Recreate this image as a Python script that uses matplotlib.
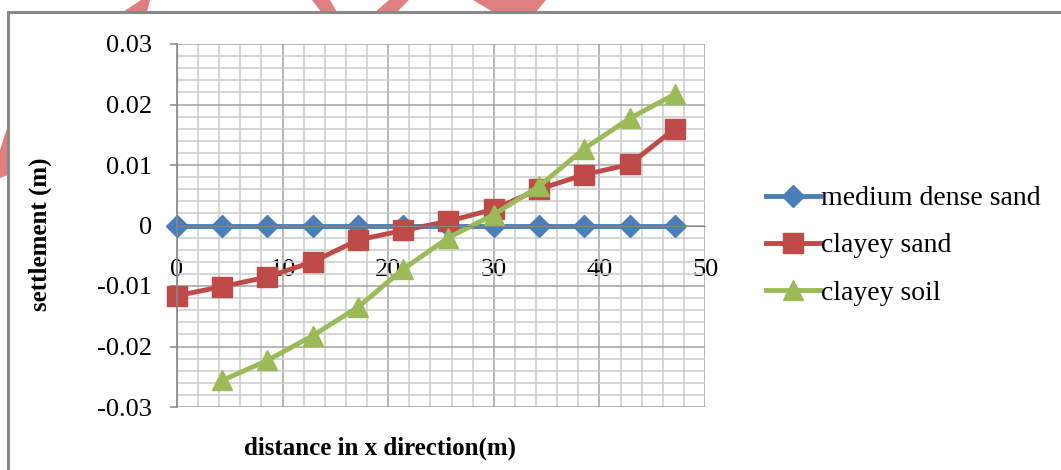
import numpy as np
import matplotlib.pyplot as plt
from matplotlib.patches import Rectangle, Polygon
from matplotlib.ticker import MultipleLocator

plt.rcParams['font.family'] = ['Liberation Serif', 'DejaVu Serif']
plt.rcParams['axes.unicode_minus'] = False

# Settlement along the x direction for the three soils
distance = [0, 4.29, 8.57, 12.86, 17.14, 21.43, 25.71, 30.0, 34.29, 38.57, 42.86, 47.14]
medium_dense_sand = [0, 0, 0, 0, 0, 0, 0, 0, 0, 0, 0, 0]
clayey_sand = [-0.0116, -0.0101, -0.0085, -0.0060, -0.0024, -0.0008,
               0.0007, 0.0027, 0.0060, 0.0084, 0.0101, 0.0160]
clayey_soil = [np.nan, -0.0256, -0.0223, -0.0182, -0.0135, -0.0072,
               -0.0020, 0.0018, 0.0065, 0.0127, 0.0177, 0.0217]

x_ticks = [0, 10, 20, 30, 40, 50]
y_ticks = [-0.03, -0.02, -0.01, 0, 0.01, 0.02, 0.03]
y_tick_labels = ['-0.03', '-0.02', '-0.01', '0', '0.01', '0.02', '0.03']

W, H = 1061, 470
fig = plt.figure(figsize=(W / 100, H / 100), dpi=100)


def px(x, y):
    return (x / W, 1 - y / H)


# bits of the red stamp peeking out round the chart frame
stamp = [
    [(123, 12), (141, 0), (150, 0), (147, 12)],
    [(312, 0), (330, 0), (337, 12), (321, 12)],
    [(389, 0), (409, 0), (397, 12), (375, 12)],
    [(473, 0), (546, 0), (536, 12), (493, 12)],
    [(8, 125), (8, 175), (0, 178), (0, 150)],
]
for pts in stamp:
    fig.add_artist(Polygon([px(*p) for p in pts], closed=True,
                           transform=fig.transFigure, facecolor='#e07f7f',
                           edgecolor='none', zorder=-3))

# chart frame
x0, y0 = px(8, 12)
fig.add_artist(Rectangle((x0, -0.1), 1.2, y0 + 0.1, transform=fig.transFigure,
                         facecolor='white', edgecolor='#898989', lw=2.2, zorder=-2))

ax = fig.add_axes([177 / W, 1 - 407 / H, (705 - 177) / W, (407 - 44) / H])
ax.set_facecolor('none')
ax.set_xlim(0, 50)
ax.set_ylim(-0.03, 0.03)

ax.set_xticks(x_ticks)
ax.xaxis.set_minor_locator(MultipleLocator(2))
ax.set_yticks(y_ticks)
ax.set_yticklabels(y_tick_labels)
ax.yaxis.set_minor_locator(MultipleLocator(0.002))

ax.grid(which='major', color='#a3a3a3', lw=1.1)
ax.grid(which='minor', color='#cccccc', lw=1.1)
ax.set_axisbelow(True)

for s in ['top', 'right']:
    ax.spines[s].set_visible(False)
ax.spines['left'].set_color('#868686')
ax.spines['left'].set_linewidth(1.2)
ax.spines['bottom'].set_position(('data', 0))
ax.spines['bottom'].set_color('#868686')

ax.tick_params(axis='x', which='both', length=0, pad=24, labelsize=19)
ax.tick_params(axis='y', which='major', length=5, width=1.1, color='#868686',
               pad=13, labelsize=19)
ax.tick_params(axis='y', which='minor', length=0)

ax.plot(distance, medium_dense_sand, color='#4a7ebb', lw=3.5, marker='D',
        markersize=11, label='medium dense sand', clip_on=False)
ax.plot(distance, clayey_sand, color='#be4b48', lw=3.5, marker='s',
        markersize=15, label='clayey sand', clip_on=False)
ax.plot(distance, clayey_soil, color='#9bbb59', lw=3.5, marker='^',
        markersize=15, label='clayey soil', clip_on=False)

fig.text(*px(40, 234), 'settlement (m)', rotation=90, ha='center', va='center',
         fontsize=18, fontweight='bold')
fig.text(*px(380, 448), 'distance in x direction(m)', ha='center', va='center',
         fontsize=18, fontweight='bold')

ax.legend(loc='upper left', bbox_to_anchor=px(752, 172),
          bbox_transform=fig.transFigure, frameon=False, fontsize=20,
          handlelength=1.95, handletextpad=0.05, labelspacing=0.78, borderpad=0)

fig.savefig('out.png', dpi=100)
